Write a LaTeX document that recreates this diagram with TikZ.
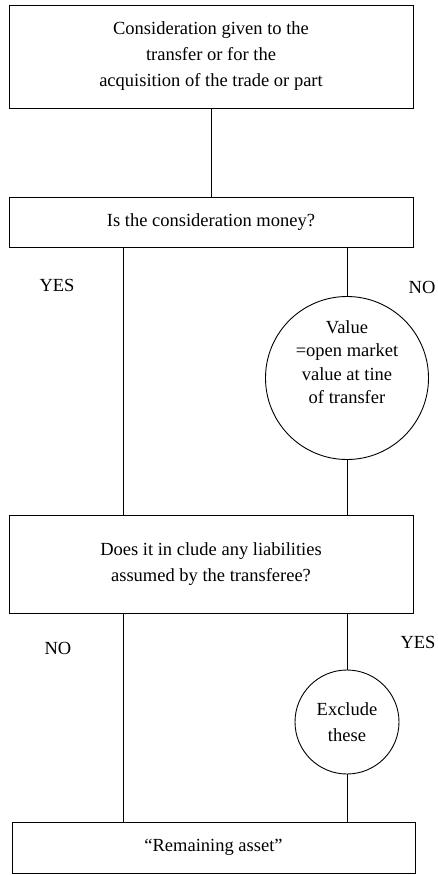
\documentclass[tikz,border=0pt]{standalone}
\usepackage{fontspec}
\setmainfont{Liberation Serif}
\usepackage{tikz}
\usetikzlibrary{
  positioning, % for relative node positioning
  calc, % for position calculations
}
\newcommand{\chartfont}{\fontsize{18.5}{26}\selectfont}

\tikzset{
  stepbox/.style={draw, rectangle, line width=0.9pt, align=center,
    minimum width=404pt, inner sep=0pt, font=\chartfont},
  ring/.style={draw, circle, line width=0.9pt, inner sep=0pt},
  ringtext/.style={align=center, inner sep=0pt, font=\chartfont},
  answer/.style={inner sep=0pt, font=\chartfont},
  link/.style={line width=0.9pt},
}

\begin{document}
\begin{tikzpicture}[x=1pt, y=-1pt]
    \useasboundingbox (0,0) rectangle (437,875);
    % the two branch columns
    \coordinate (lft) at (123,0);
    \coordinate (rgt) at (347,0);

    % boxes
    \node[stepbox, minimum height=103pt] (cons) at (211,56.5)
      {Consideration given to the\\ transfer or for the\\ acquisition of the trade or part};
    \node[stepbox, minimum height=50pt] (money) at (211,222)
      {Is the consideration money?};
    \node[stepbox, minimum height=98pt] (liab) at (211,564)
      {Does it in clude any liabilities\\ assumed by the transferee?};
    \node[stepbox, minimum height=51pt, minimum width=403pt] (remain) at (213.5,847.5)
      {``Remaining asset''};

    % circles
    \node[ring, minimum size=163pt] (openval) at (347,378) {};
    \node[ringtext, font=\fontsize{18.5}{23.5}\selectfont] (openvaltxt) at (347,362)
      {Value\\ =open market\\ value at tine\\ of transfer};
    \node[ring, minimum size=104pt, ringtext] (excl) at (347,722)
      {Exclude\\ these};

    % answers
    \node[answer] (yesA) at (57,285) {YES};
    \node[answer] (noA) at (422,287) {NO};
    \node[answer] (noB) at (58,648) {NO};
    \node[answer] (yesB) at (418,642) {YES};

    % connectors
    \draw[link] (cons.south) -- (money.north);
    \draw[link] (money.south -| lft) -- (liab.north -| lft);
    \draw[link] (money.south -| rgt) -- (openval.north);
    \draw[link] (openval.south) -- (liab.north -| rgt);
    \draw[link] (liab.south -| lft) -- (remain.north -| lft);
    \draw[link] (liab.south -| rgt) -- (excl.north);
    \draw[link] (excl.south) -- (remain.north -| rgt);
  \end{tikzpicture}
\end{document}
